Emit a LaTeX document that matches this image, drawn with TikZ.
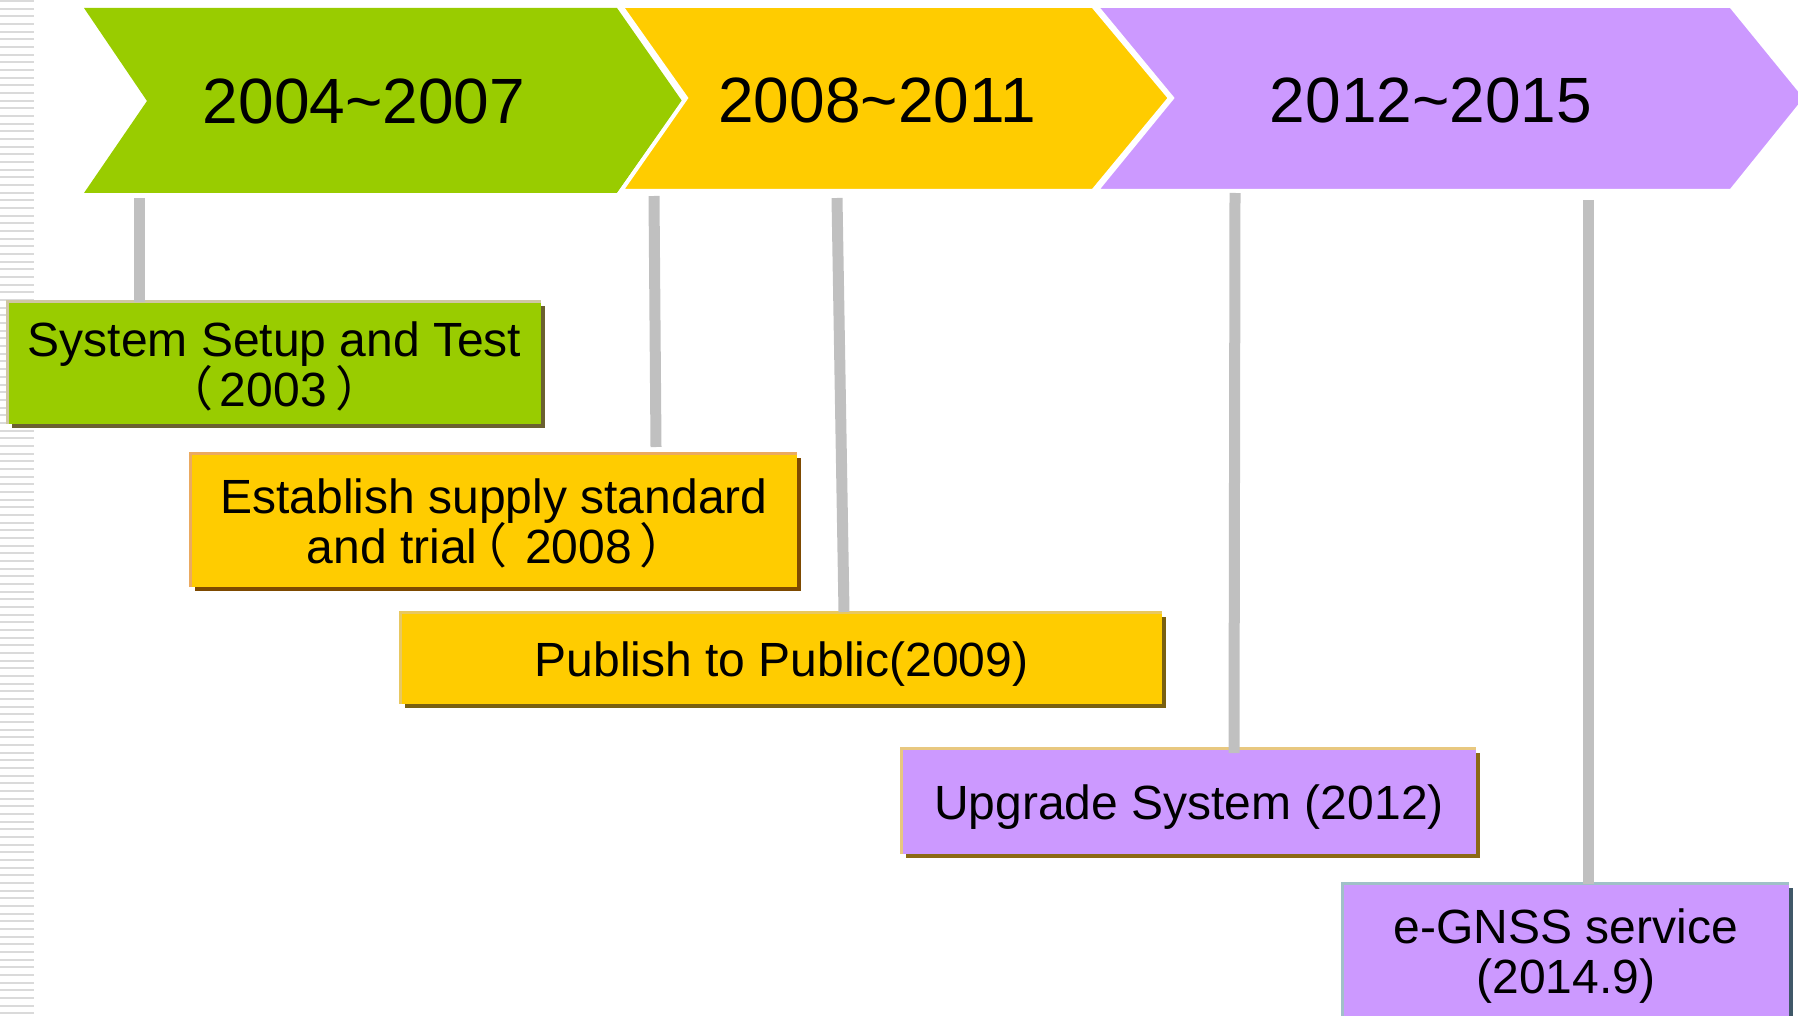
\documentclass[tikz,border=0pt]{standalone}
\usepackage{fontspec}
\setmainfont{Liberation Sans}
\newfontfamily\cjk[RawFeature=+palt]{Noto Sans CJK SC}
\definecolor{cgreen}{HTML}{99CC00}
\definecolor{cyellow}{HTML}{FFCC00}
\definecolor{cpurple}{HTML}{CC99FF}
\definecolor{cgray}{HTML}{C0C0C0}
\definecolor{stripe}{HTML}{DADADA}
\definecolor{bdA}{HTML}{CFC7A3}
\definecolor{shA}{HTML}{6B6030}
\definecolor{bdB}{HTML}{EBAA60}
\definecolor{shB}{HTML}{7E4A00}
\definecolor{bdC}{HTML}{E8C860}
\definecolor{shC}{HTML}{7A6010}
\definecolor{bdD}{HTML}{E8C880}
\definecolor{shD}{HTML}{8B6914}
\definecolor{bdE}{HTML}{A0C0C8}
\definecolor{shE}{HTML}{405868}
\newcommand\boxtext[1]{\raisebox{-8pt}[\height][\depth]{\begin{tabular}{@{}c@{}}#1\end{tabular}}}
\newcommand\lpar{\smash{\cjk （}}
\newcommand\rpar{\smash{\cjk ）}}
\tikzset{
  x=1pt, y=-1pt,
  chev/.style={draw=white, line width=4pt, line join=miter},
  period/.style={font=\fontsize{64}{70}\selectfont, inner sep=0pt},
  box/.style={inner sep=0pt, font=\fontsize{48}{50}\selectfont},
  shad/.style={preaction={fill=#1, transform canvas={shift={(3.5pt,-3.5pt)}}}},
  conn/.style={draw=cgray, line width=11pt},
  edge/.style={draw=#1, line width=3pt}
}
\begin{document}
\begin{tikzpicture}
\useasboundingbox (0,0) rectangle (1798,1016);
% left stripes
\foreach \i in {0,...,132} {
  \draw[stripe, line width=2pt] (0,{1+\i*7.67}) -- (34,{1+\i*7.67});
}
% chevrons
\fill[cgreen] (84,8) -- (617,8) -- (682,101) -- (617,193) -- (84,193) -- (147,101) -- cycle;
\path[chev, fill=cyellow] (621,6) -- (1093,6) -- (1170,98) -- (1093,191) -- (621,191) -- (686,98) -- cycle;
\path[chev, fill=cpurple] (1096,6) -- (1731,6) -- (1806,98) -- (1731,191) -- (1096,191) -- (1172,98) -- cycle;
\node[period] (p1) at (364,101) {2004\char`~2007};
\node[period] (p2) at (877,100) {2008\char`~2011};
\node[period] (p3) at (1431,100) {2012\char`~2015};
% boxes
\node[box, fill=cgreen, shad=shA, minimum width=533pt, minimum height=122pt] (b1) at (274.5,363)
  {\boxtext{System Setup and Test\\\lpar\hspace{8.3pt}2003\hspace{10.6pt}\rpar}};
\draw[edge=bdA] (b1.south west) |- (b1.north east);
\node[box, fill=cyellow, shad=shB, minimum width=606pt, minimum height=133pt] (b2) at (494,520.5)
  {\boxtext{Establish supply standard\\and trial\hspace{4.6pt}\lpar\hspace{19.1pt}2008\hspace{9.4pt}\rpar\kern16pt}};
\draw[edge=bdB] (b2.south west) |- (b2.north east);
\node[box, fill=cyellow, shad=shC, minimum width=761pt, minimum height=91pt] (b3) at (781.5,658.5)
  {\boxtext{Publish to Public(2009)}};
\draw[edge=bdC] (b3.south west) |- (b3.north east);
\node[box, fill=cpurple, shad=shD, minimum width=574pt, minimum height=105pt] (b4) at (1189,801.5)
  {\boxtext{Upgrade System (2012)}};
\draw[edge=bdD] (b4.south west) |- (b4.north east);
\node[box, fill=cpurple, shad=shE, minimum width=446pt, minimum height=132pt] (b5) at (1566,950)
  {\boxtext{e-GNSS service\\(2014.9)}};
\draw[edge=bdE] (b5.south west) |- (b5.north east);
% connectors
\coordinate (t1) at (139,198);
\coordinate (t2) at (654,196);
\coordinate (e2) at (656,447);
\coordinate (t3) at (837,198);
\coordinate (e3) at (844,612);
\coordinate (t4) at (1235,193);
\coordinate (e4) at (1234,753);
\coordinate (t5) at (1588,200);
\draw[conn] (t1) -- (t1 |- b1.north);
\draw[conn] (t2) -- (e2);
\draw[conn] (t3) -- (e3);
\draw[conn] (t4) -- (e4);
\draw[conn] (t5) -- (t5 |- b5.north);
\end{tikzpicture}
\end{document}
